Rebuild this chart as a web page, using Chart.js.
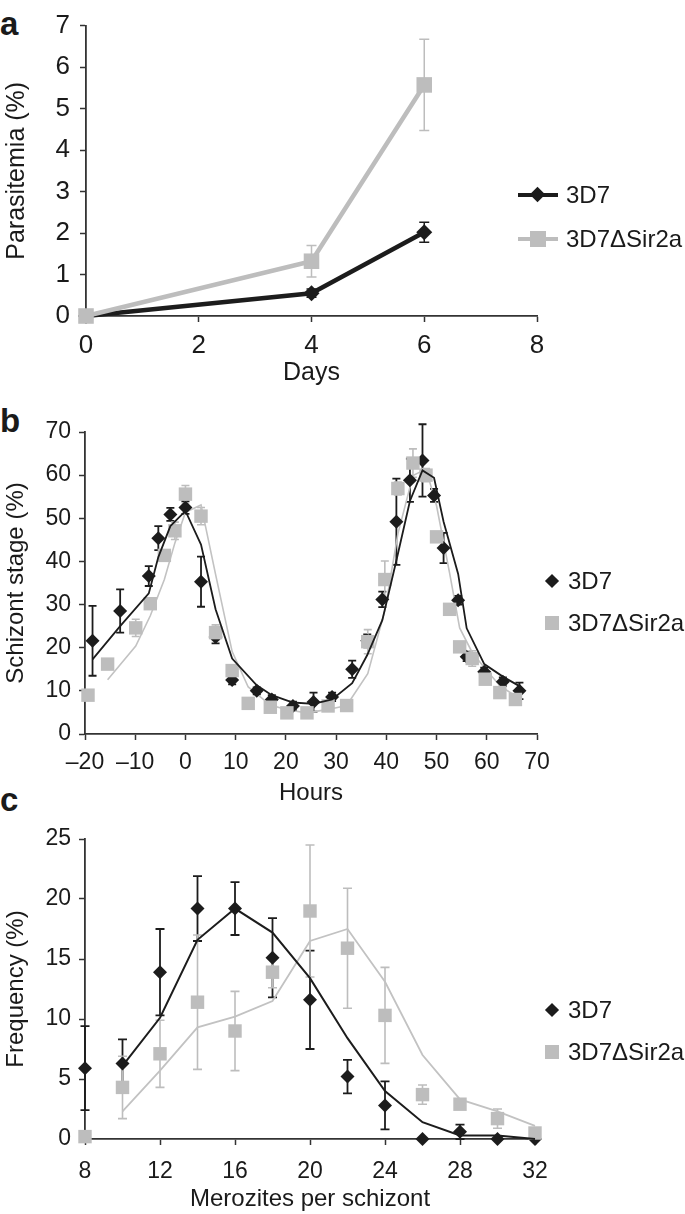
<!DOCTYPE html>
<html>
<head>
<meta charset="utf-8">
<script src="https://cdn.jsdelivr.net/npm/chart.js@4.4.1/dist/chart.umd.min.js"></script>
<style>
  body { margin: 0; background: #fff; font-family: "Liberation Sans", Arial, sans-serif; color: #1a1a1a; }
  #page { position: relative; width: 685px; height: 1214px; overflow: hidden; }
  canvas { position: absolute; left: 0; }
  .tag { position: absolute; left: 0; font-weight: bold; font-size: 33px; line-height: 1; }
  .leg { position: absolute; height: 30px; line-height: 30px; font-size: 24px; display: flex; align-items: center; white-space: nowrap; }
  .mk { position: relative; height: 30px; margin-right: 8px; }
  .ln { position: absolute; left: 0; right: 0; top: 13px; height: 4px; }
  .dia { position: absolute; width: 11px; height: 11px; transform: rotate(45deg); }
  .sq { position: absolute; }
</style>
</head>
<body>
<div id="page">
  <div class="tag" style="top:7px">a</div>
  <div class="tag" style="top:404px">b</div>
  <div class="tag" style="top:783px">c</div>

  <canvas id="chartA" width="685" height="400" style="top:0"></canvas>
  <canvas id="chartB" width="685" height="410" style="top:400px"></canvas>
  <canvas id="chartC" width="685" height="404" style="top:810px"></canvas>

  <!-- legends -->
  <div class="leg" style="top:180px;left:518px">
    <div class="mk" style="width:40px"><div class="ln" style="background:#1c1c1c"></div><div class="dia" style="background:#1c1c1c;left:14px;top:9px"></div></div>3D7
  </div>
  <div class="leg" style="top:224px;left:518px">
    <div class="mk" style="width:40px"><div class="ln" style="background:#bdbdbd"></div><div class="sq" style="background:#bdbdbd;left:12px;top:7px;width:16px;height:16px"></div></div>3D7ΔSir2a
  </div>

  <div class="leg" style="top:566px;left:544px">
    <div class="mk" style="width:16px"><div class="dia" style="background:#1c1c1c;left:3px;top:10px;width:10px;height:10px"></div></div>3D7
  </div>
  <div class="leg" style="top:608px;left:544px">
    <div class="mk" style="width:16px"><div class="sq" style="background:#bdbdbd;left:1px;top:8px;width:14px;height:14px"></div></div>3D7ΔSir2a
  </div>

  <div class="leg" style="top:995px;left:544px">
    <div class="mk" style="width:16px"><div class="dia" style="background:#1c1c1c;left:3px;top:10px;width:10px;height:10px"></div></div>3D7
  </div>
  <div class="leg" style="top:1037px;left:544px">
    <div class="mk" style="width:16px"><div class="sq" style="background:#bdbdbd;left:1px;top:8px;width:14px;height:14px"></div></div>3D7ΔSir2a
  </div>
</div>

<script>
// ---- panel a: parasitemia over days
const days = [0, 4, 6];
const paraWT = [0, 0.55, 2.02];
const paraWTErr = [0, 0.1, 0.24];
const paraKO = [0, 1.32, 5.57];
const paraKOErr = [0, 0.38, 1.1];

// ---- panel b: schizont stage over hours
const hoursWT = [-18.5, -13.0, -7.3, -5.4, -3.0, 0.0, 3.1, 6.0, 9.3, 14.2, 17.2, 21.4, 25.5, 29.2, 33.2, 36.2, 39.2, 42.0, 44.7, 47.2, 49.5, 51.4, 54.3, 56.0, 59.5, 63.2, 66.5];
const schizWT = [21.6, 28.5, 36.6, 45.4, 50.9, 52.5, 35.3, 22.5, 12.5, 10.0, 8.0, 6.5, 7.4, 8.6, 15.0, 21.6, 31.2, 49.2, 58.8, 63.4, 55.3, 43.1, 31.0, 17.9, 14.4, 12.1, 10.0];
const schizWTErr = [8.1, 5.0, 2.3, 2.8, 1.5, 1.5, 5.8, 1.5, 1.0, 0.8, 1.0, 1.0, 2.2, 1.0, 2.0, 1.5, 1.8, 10.0, 5.0, 8.4, 1.5, 3.5, 1.0, 1.0, 1.0, 1.0, 1.9];
const trendWTHours = [-18.5, -13.0, -7.3, -5.4, -3.0, 0.0, 3.1, 6.0, 9.3, 14.2, 17.2, 21.4, 25.5, 29.2, 33.2, 36.2, 39.2, 42.0, 44.7, 47.2, 49.5, 51.4, 54.3, 56.0, 59.5, 63.2, 66.5];
const trendWT = [17.3, 25.0, 32.6, 41.0, 48.2, 51.7, 43.9, 28.9, 17.5, 11.3, 9.0, 7.3, 7.0, 8.0, 11.8, 18.3, 26.4, 40.2, 54.0, 61.1, 59.4, 49.2, 37.1, 24.5, 16.2, 13.3, 11.1];

const hoursKO = [-19.4, -15.5, -9.9, -7.0, -4.2, -2.1, 0.0, 3.1, 6.0, 9.3, 12.5, 16.9, 20.2, 24.2, 28.4, 32.1, 36.3, 39.7, 42.3, 45.3, 47.9, 50.0, 52.6, 54.6, 57.1, 59.7, 62.6, 65.7];
const schizKO = [9.0, 16.2, 24.6, 30.2, 41.4, 47.1, 55.6, 50.5, 23.5, 14.7, 7.1, 6.2, 4.9, 4.9, 6.5, 6.6, 21.4, 35.8, 56.9, 62.8, 60.0, 45.7, 28.9, 20.2, 17.5, 12.7, 9.6, 8.0];
const schizKOErr = [0, 0, 2.0, 1.0, 1.0, 2.0, 2.0, 2.0, 1.8, 1.0, 0.5, 0.5, 0.5, 0.8, 0.5, 0.5, 2.8, 4.3, 1.5, 3.3, 1.5, 1.0, 0.5, 0.5, 1.8, 0.5, 0.5, 0.5];
const trendKOHours = [-15.5, -9.9, -7.0, -4.2, -2.1, 0.0, 3.1, 6.0, 9.3, 12.5, 16.9, 20.2, 24.2, 28.4, 32.1, 36.3, 39.7, 42.3, 45.3, 47.9, 50.0, 52.6, 54.6, 57.1, 59.7, 62.6, 65.7];
const trendKO = [12.6, 20.4, 27.4, 35.8, 44.3, 51.4, 53.1, 37.0, 19.1, 10.9, 6.7, 5.6, 4.9, 5.7, 6.6, 14.0, 28.6, 46.4, 59.9, 61.4, 52.9, 37.3, 24.6, 18.9, 15.1, 11.2, 8.8];

// ---- panel c: merozites per schizont
const merozites = [8, 10, 12, 14, 16, 18, 20, 22, 24, 26, 28, 30, 32];
const freqWT = [5.9, 6.3, 13.9, 19.2, 19.2, 15.1, 11.6, 5.2, 2.8, 0, 0.6, 0, 0];
const freqWTErr = [3.5, 2.0, 3.6, 2.7, 2.2, 3.3, 4.1, 1.4, 2.0, 0, 0.6, 0, 0];
const freqKO = [0.2, 4.3, 7.1, 11.4, 9.0, 13.9, 19.0, 15.9, 10.3, 3.7, 2.9, 1.7, 0.5];
const freqKOErr = [0, 2.6, 2.8, 5.6, 3.3, 1.3, 5.5, 5.0, 4.0, 0.8, 0.3, 0.8, 0.3];
const trendMeroz = [10, 12, 14, 16, 18, 20, 22, 24, 26, 28, 30, 32];
const trendFreqWT = [6.1, 10.1, 16.6, 19.2, 17.2, 13.4, 8.4, 4.0, 1.4, 0.3, 0.3, 0];
const trendFreqKO = [2.3, 5.7, 9.3, 10.2, 11.5, 16.5, 17.5, 13.1, 7.0, 3.3, 2.3, 1.1];

const BLACK = '#1c1c1c';
const GREY = '#bdbdbd';
const FONT = '"Liberation Sans", Arial, sans-serif';

Chart.defaults.font.family = FONT;
Chart.defaults.color = '#1a1a1a';

function pts(xs, ys) {
    return xs.map((x, i) => ({ x: x, y: ys[i] }));
}

// vertical error bars with caps, drawn under the markers
const errorBars = {
    id: 'errorBars',
    beforeDatasetsDraw(chart) {
        const ctx = chart.ctx;
        const xs = chart.scales.x, ys = chart.scales.y;
        chart.data.datasets.forEach(ds => {
            if (!ds.errors) return;
            ctx.save();
            ctx.strokeStyle = ds.errorColor;
            ctx.lineWidth = ds.errorWidth;
            ds.data.forEach((p, j) => {
                const e = ds.errors[j];
                if (!e) return;
                const px = xs.getPixelForValue(p.x);
                const top = ys.getPixelForValue(p.y + e);
                const bot = ys.getPixelForValue(Math.max(p.y - e, 0));
                const c = ds.capWidth / 2;
                ctx.beginPath();
                ctx.moveTo(px, top); ctx.lineTo(px, bot);
                ctx.moveTo(px - c, top); ctx.lineTo(px + c, top);
                ctx.moveTo(px - c, bot); ctx.lineTo(px + c, bot);
                ctx.stroke();
            });
            ctx.restore();
        });
    }
};

function scales(o) {
    return {
        x: {
            type: 'linear', min: o.xmin, max: o.xmax,
            afterFit: s => { s.height = o.xh; },
            afterBuildTicks: s => { s.ticks = o.xticks.map(v => ({ value: v })); },
            ticks: {
                font: { size: o.tickSize }, padding: o.xpad, maxRotation: 0, color: '#1a1a1a',
                callback: v => v < 0 ? '\u2013' + Math.abs(v) : String(v)
            },
            grid: { display: true, drawOnChartArea: false, drawTicks: true, tickLength: 6, tickColor: '#333', tickWidth: 1.5 },
            border: { display: true, color: '#333', width: o.axisWidth },
            title: { display: true, text: o.xtitle, font: { size: o.titleSize }, padding: { top: 0, bottom: o.xtpad }, color: '#1a1a1a' }
        },
        y: {
            type: 'linear', min: o.ymin, max: o.ymax,
            afterFit: s => { s.width = o.yw; },
            afterBuildTicks: s => { s.ticks = o.yticks.map(v => ({ value: v })); },
            ticks: { font: { size: o.tickSize }, padding: o.ypad, color: '#1a1a1a' },
            grid: { display: true, drawOnChartArea: false, drawTicks: true, tickLength: 6, tickColor: '#333', tickWidth: 1.5 },
            border: { display: true, color: '#333', width: o.axisWidth },
            title: { display: true, text: o.ytitle, font: { size: o.titleSize }, padding: { top: 2, bottom: 0 }, color: '#1a1a1a' }
        }
    };
}

function baseOptions(o, padding) {
    return {
        responsive: false,
        animation: false,
        layout: { padding: padding },
        plugins: { legend: { display: false }, tooltip: { enabled: false } },
        scales: scales(o)
    };
}

// panel a
new Chart(document.getElementById('chartA'), {
    type: 'line',
    data: {
        datasets: [
            {
                label: '3D7', data: pts(days, paraWT), errors: paraWTErr,
                errorColor: BLACK, errorWidth: 1.5, capWidth: 10,
                borderColor: BLACK, backgroundColor: BLACK, borderWidth: 4.5,
                pointStyle: 'rectRot', pointRadius: 8, pointBorderWidth: 0,
                tension: 0, clip: false, order: 2
            },
            {
                label: '3D7ΔSir2a', data: pts(days, paraKO), errors: paraKOErr,
                errorColor: GREY, errorWidth: 1.5, capWidth: 10,
                borderColor: GREY, backgroundColor: GREY, borderWidth: 4.5,
                pointStyle: 'rect', pointRadius: 11, pointBorderWidth: 0,
                tension: 0, clip: false, order: 1
            }
        ]
    },
    options: baseOptions({
        xmin: 0, xmax: 8, xticks: [0, 2, 4, 6, 8], xh: 84, xpad: 8, xtitle: 'Days', xtpad: 12,
        ymin: 0, ymax: 7, yticks: [0, 1, 2, 3, 4, 5, 6, 7], yw: 86, ypad: 10, ytitle: 'Parasitemia (%)',
        tickSize: 26, titleSize: 25, axisWidth: 1.8
    }, { left: 0, right: 148, top: 24, bottom: 0 }),
    plugins: [errorBars]
});

// panel b
new Chart(document.getElementById('chartB'), {
    type: 'line',
    data: {
        datasets: [
            {
                label: 'trend 3D7ΔSir2a', data: pts(trendKOHours, trendKO),
                borderColor: '#c2c2c2', borderWidth: 1.6, pointRadius: 0, tension: 0, clip: false, order: 4
            },
            {
                label: '3D7', data: pts(hoursWT, schizWT), errors: schizWTErr,
                errorColor: BLACK, errorWidth: 1.8, capWidth: 8,
                showLine: false, backgroundColor: BLACK, borderColor: BLACK,
                pointStyle: 'rectRot', pointRadius: 7, pointBorderWidth: 0, clip: false, order: 3
            },
            {
                label: '3D7ΔSir2a', data: pts(hoursKO, schizKO), errors: schizKOErr,
                errorColor: GREY, errorWidth: 1.6, capWidth: 8,
                showLine: false, backgroundColor: GREY, borderColor: GREY,
                pointStyle: 'rect', pointRadius: 9.5, pointBorderWidth: 0, clip: false, order: 2
            },
            {
                label: 'trend 3D7', data: pts(trendWTHours, trendWT),
                borderColor: BLACK, borderWidth: 1.8, pointRadius: 0, tension: 0, clip: false, order: 1
            }
        ]
    },
    options: baseOptions({
        xmin: -20, xmax: 70, xticks: [-20, -10, 0, 10, 20, 30, 40, 50, 60, 70], xh: 76, xpad: 9, xtitle: 'Hours', xtpad: 2,
        ymin: 0, ymax: 70, yticks: [0, 10, 20, 30, 40, 50, 60, 70], yw: 85, ypad: 8, ytitle: 'Schizont stage (%)',
        tickSize: 23, titleSize: 24, axisWidth: 1.8
    }, { left: 0, right: 148, top: 32, bottom: 0 }),
    plugins: [errorBars]
});

// panel c
new Chart(document.getElementById('chartC'), {
    type: 'line',
    data: {
        datasets: [
            {
                label: 'trend 3D7ΔSir2a', data: pts(trendMeroz, trendFreqKO),
                borderColor: '#c2c2c2', borderWidth: 1.8, pointRadius: 0, tension: 0, clip: false, order: 4
            },
            {
                label: '3D7', data: pts(merozites, freqWT), errors: freqWTErr,
                errorColor: BLACK, errorWidth: 1.8, capWidth: 9,
                showLine: false, backgroundColor: BLACK, borderColor: BLACK,
                pointStyle: 'rectRot', pointRadius: 7, pointBorderWidth: 0, clip: false, order: 3
            },
            {
                label: '3D7ΔSir2a', data: pts(merozites, freqKO), errors: freqKOErr,
                errorColor: GREY, errorWidth: 1.6, capWidth: 9,
                showLine: false, backgroundColor: GREY, borderColor: GREY,
                pointStyle: 'rect', pointRadius: 9.5, pointBorderWidth: 0, clip: false, order: 2
            },
            {
                label: 'trend 3D7', data: pts(trendMeroz, trendFreqWT),
                borderColor: BLACK, borderWidth: 2, pointRadius: 0, tension: 0, clip: false, order: 1
            }
        ]
    },
    options: baseOptions({
        xmin: 8, xmax: 32, xticks: [8, 12, 16, 20, 24, 28, 32], xh: 75, xpad: 13, xtitle: 'Merozites per schizont', xtpad: 0,
        ymin: 0, ymax: 25, yticks: [0, 5, 10, 15, 20, 25], yw: 85, ypad: 8, ytitle: 'Frequency (%)',
        tickSize: 23, titleSize: 24, axisWidth: 1.8
    }, { left: 0, right: 150, top: 29, bottom: 0 }),
    plugins: [errorBars]
});
</script>
</body>
</html>
